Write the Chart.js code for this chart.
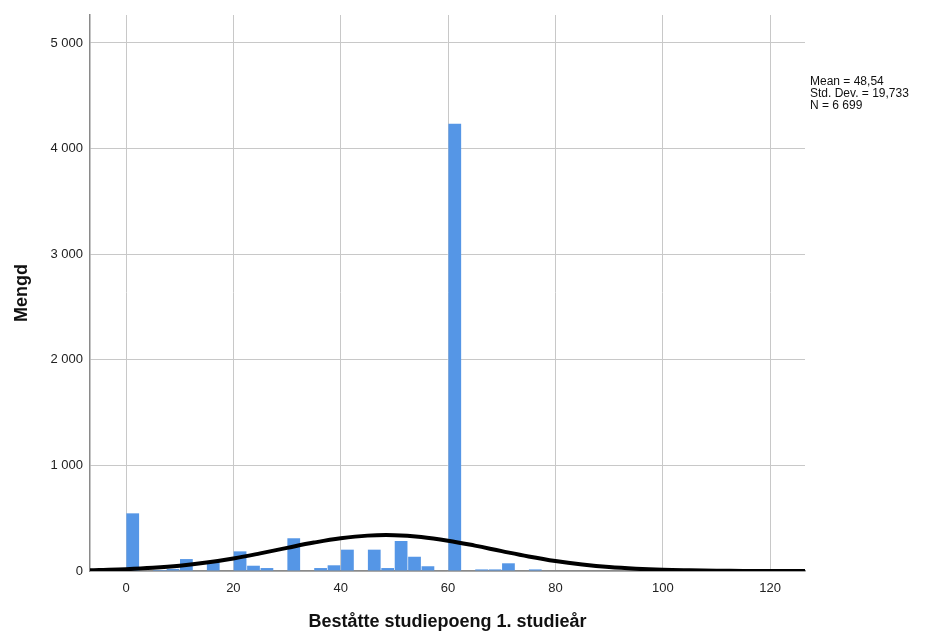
<!DOCTYPE html>
<html><head><meta charset="utf-8">
<script src="https://cdn.jsdelivr.net/npm/chart.js@4"></script>
<style>
html,body{margin:0;padding:0;background:#fff;}
#wrap{position:relative;width:926px;height:635px;}
#stats{position:absolute;left:810px;top:76px;font:12px "Liberation Sans",Arial,sans-serif;line-height:11.8px;color:#111;white-space:nowrap;}
</style></head>
<body>
<div id="wrap"><canvas id="c" width="926" height="635"></canvas>
<div id="stats">Mean = 48,54<br>Std. Dev. = 19,733<br>N = 6 699</div></div>
<script>
// Histogram bins (start value of each 2.5-wide bin) and counts
const binStarts = [0,2.5,5,7.5,10,12.5,15,17.5,20,22.5,25,27.5,30,32.5,35,37.5,40,42.5,45,47.5,50,52.5,55,57.5,60,62.5,65,67.5,70,72.5,75,77.5,80];
const counts    = [546,0,10,20,113,0,80,0,186,50,28,0,310,0,28,54,202,0,202,28,284,135,45,0,4235,0,15,15,73,0,15,5,5];
const binWidth = 2.5;
// Normal curve
const curveX = [-7,-5,0,5,10,15,20,25,30,35,40,45,50,55,60,65,70,75,80,85,90,95,100,105,110,115,120,125,127];
const curveY = [6,9,17,30,50,80,119,167,219,269,310,335,339,322,287,240,188,138,95,62,37,21,11,6,3,1,0.5,0.2,0.1];
const xTicks = [0,20,40,60,80,100,120];
const yTicks = [0,1000,2000,3000,4000,5000];

const fmt = v => String(v).replace(/\B(?=(\d{3})+(?!\d))/g, ' ');
const FONT = '"Liberation Sans", Arial, sans-serif';

new Chart(document.getElementById('c'), {
  type: 'bar',
  data: {
    datasets: [
      {
        type: 'line',
        data: curveX.map((x,i)=>({x, y: curveY[i]})),
        borderColor: '#000',
        borderWidth: 4,
        pointRadius: 0,
        tension: 0.4,
        fill: false,
        order: 0
      },
      {
        type: 'bar',
        data: binStarts.map((s,i)=>({x: s + binWidth/2, y: counts[i]})),
        backgroundColor: '#5596E6',
        borderWidth: 0,
        barPercentage: 1,
        categoryPercentage: 0.95,
        order: 1
      }
    ]
  },
  options: {
    responsive: false,
    animation: false,
    layout: { padding: { left: 0, right: 121, top: 15, bottom: 0 } },
    plugins: { legend: { display: false }, tooltip: { enabled: false } },
    scales: {
      x: {
        type: 'linear',
        min: -6.71, max: 126.5,
        offset: false,
        grid: { color: '#c8c8c8', lineWidth: 1, drawTicks: false, offset: false },
        border: { color: '#8a8a8a', width: 1.5 },
        afterBuildTicks: s => { s.ticks = xTicks.map(v => ({value: v})); },
        afterFit: s => { s.height = 64; },
        ticks: { padding: 10, color: '#222', font: { family: FONT, size: 13 }, maxRotation: 0,
                 callback: v => fmt(v) },
        title: { display: true, text: 'Beståtte studiepoeng 1. studieår', color: '#111',
                 font: { family: FONT, size: 18, weight: 'bold' }, padding: { top: 0, bottom: 2 } }
      },
      y: {
        type: 'linear',
        min: 0, max: 5265,
        grid: { color: '#c8c8c8', lineWidth: 1, drawTicks: false },
        border: { color: '#8a8a8a', width: 1.5 },
        afterBuildTicks: s => { s.ticks = yTicks.map(v => ({value: v})); },
        afterFit: s => { s.width = 90; },
        ticks: { padding: 7, color: '#222', font: { family: FONT, size: 13 }, callback: v => fmt(v) },
        title: { display: true, text: 'Mengd', color: '#111',
                 font: { family: FONT, size: 18, weight: 'bold' }, padding: { top: 11, bottom: 0 } }
      }
    }
  }
});
</script>
</body></html>
